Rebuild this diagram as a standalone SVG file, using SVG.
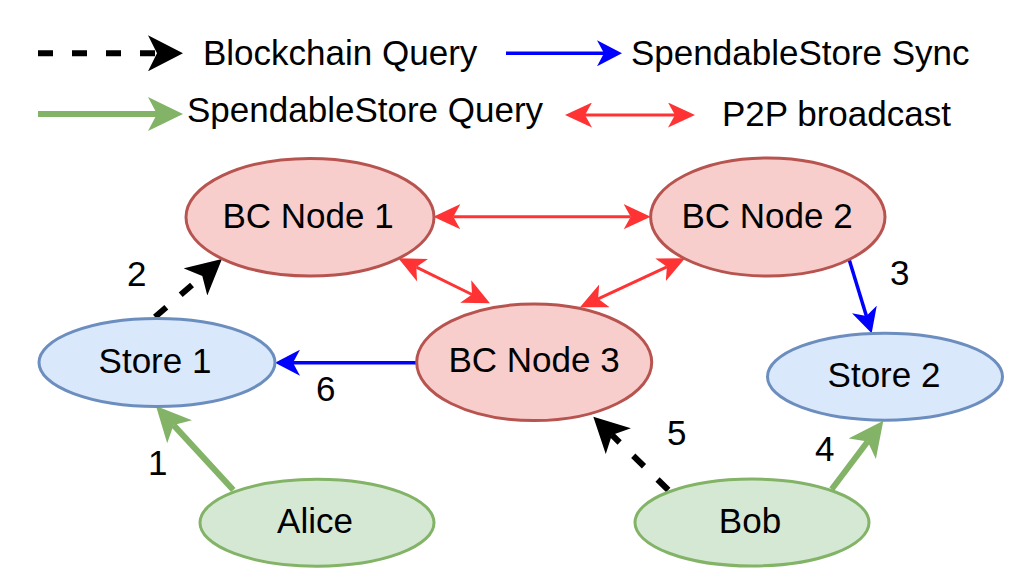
<svg xmlns="http://www.w3.org/2000/svg" width="1019" height="579" viewBox="0 0 1019 579">
<style>
text{font-family:"Liberation Sans",Arial,sans-serif;font-size:35px;fill:#000}
.n text{text-anchor:middle}
.bc{fill:#f8cecc;stroke:#b85450;stroke-width:3}
.st{fill:#dae8fc;stroke:#6c8ebf;stroke-width:3}
.us{fill:#d5e8d4;stroke:#82b366;stroke-width:3}
.red{stroke:#ff3333;stroke-width:3;fill:none;marker-start:url(#mr);marker-end:url(#mr)}
.blue{stroke:#0000ff;stroke-width:3.5;fill:none;marker-end:url(#mb)}
.green{stroke:#82b366;stroke-width:6;fill:none;marker-end:url(#mg)}
.dash{stroke:#000;stroke-width:6;fill:none;stroke-dasharray:15 19;marker-end:url(#mk)}
</style>
<defs>
<marker id="mr" markerUnits="userSpaceOnUse" viewBox="0 0 27 25" markerWidth="27" markerHeight="25" refX="7" refY="12.5" orient="auto-start-reverse"><path d="M0,0 L27,12.5 L0,25 L7,12.5 Z" fill="#ff3333"/></marker>
<marker id="mb" markerUnits="userSpaceOnUse" viewBox="0 0 25 26" markerWidth="25" markerHeight="26" refX="7" refY="13" orient="auto"><path d="M0,0 L25,13 L0,26 L7,13 Z" fill="#0000ff"/></marker>
<marker id="mg" markerUnits="userSpaceOnUse" viewBox="0 0 35 34" markerWidth="35" markerHeight="34" refX="9" refY="17" orient="auto"><path d="M0,0 L35,17 L0,34 L9,17 Z" fill="#82b366"/></marker>
<marker id="mk" markerUnits="userSpaceOnUse" viewBox="0 0 35 36" markerWidth="35" markerHeight="36" refX="9" refY="18" orient="auto"><path d="M0,0 L35,18 L0,36 L9,18 Z" fill="#000"/></marker>
</defs>
<rect width="1019" height="579" fill="#fff"/>
<g id="legend">
<line class="dash" x1="38" y1="53.3" x2="157" y2="53.3"/>
<text x="203" y="65">Blockchain Query</text>
<line class="blue" x1="506" y1="53.3" x2="604" y2="53.3"/>
<text x="631" y="65">SpendableStore Sync</text>
<line class="green" x1="38" y1="114" x2="157" y2="114"/>
<text x="187" y="122">SpendableStore Query</text>
<line class="red" x1="585" y1="115" x2="675" y2="115"/>
<text x="722" y="126">P2P broadcast</text>
</g>
<g id="connectors">
<line class="red" x1="453.3" y1="216.7" x2="630.7" y2="216.7"/>
<line class="red" x1="416.3" y1="267.1" x2="472" y2="294.5"/>
<line class="red" x1="666.9" y1="266.8" x2="598.1" y2="298.8"/>
<line class="dash" x1="155" y1="317" x2="202.3" y2="276"/>
<line class="blue" x1="848.3" y1="256.7" x2="866.4" y2="316.1"/>
<line class="green" x1="831.7" y1="489.3" x2="867.7" y2="441.5"/>
<line class="dash" x1="668.3" y1="490" x2="611.9" y2="434.9"/>
<line class="blue" x1="416.7" y1="362.7" x2="293" y2="362.7"/>
<line class="green" x1="233.3" y1="490" x2="173.6" y2="425.1"/>
<text x="127" y="286">2</text>
<text x="890" y="285">3</text>
<text x="815" y="461">4</text>
<text x="667" y="445">5</text>
<text x="316" y="401">6</text>
<text x="148" y="475">1</text>
</g>
<g id="bc1" class="n"><ellipse class="bc" cx="310" cy="217.2" rx="124" ry="58.8"/><text x="308" y="228.3">BC Node 1</text></g>
<g id="bc2" class="n"><ellipse class="bc" cx="767.8" cy="217" rx="117.2" ry="59"/><text x="767" y="228.3">BC Node 2</text></g>
<g id="bc3" class="n"><ellipse class="bc" cx="534.2" cy="362.3" rx="117.5" ry="58.3"/><text x="534" y="371.7">BC Node 3</text></g>
<g id="store1" class="n"><ellipse class="st" cx="157" cy="362.5" rx="118" ry="44"/><text x="155" y="372.7">Store 1</text></g>
<g id="store2" class="n"><ellipse class="st" cx="885" cy="376.7" rx="117.5" ry="43.5"/><text x="884" y="386.7">Store 2</text></g>
<g id="alice" class="n"><ellipse class="us" cx="317" cy="522.7" rx="117" ry="43.5"/><text x="315" y="533.3">Alice</text></g>
<g id="bob" class="n"><ellipse class="us" cx="752" cy="522.5" rx="117" ry="43.5"/><text x="750" y="532.7">Bob</text></g>
</svg>
